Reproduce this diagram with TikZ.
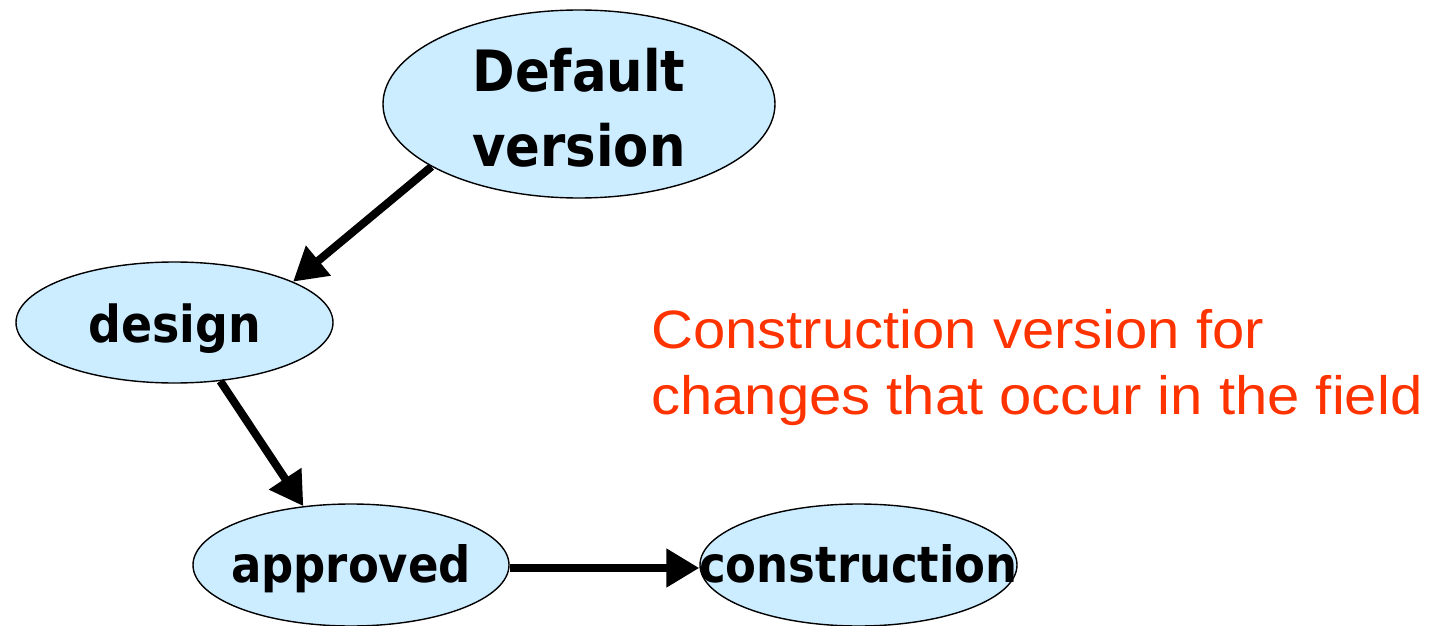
\documentclass[tikz,border=0pt]{standalone}
\usepackage{fontspec}
\usetikzlibrary{shapes.geometric,arrows.meta}
\newfontfamily\nodefont[FakeStretch=0.9]{DejaVu Sans Bold}
\newfontfamily\notefont[FakeStretch=1.075]{Liberation Sans}
\definecolor{nodefill}{HTML}{CCECFF}
\definecolor{notered}{HTML}{FF3300}
\begin{document}
\begin{tikzpicture}[x=1pt,y=-1pt,
  state/.style={ellipse,draw=black,line width=1.4pt,fill=nodefill,inner sep=0pt,
    font=\nodefont\fontsize{50}{58}\selectfont},
  flow/.style={line width=8pt,-{Triangle[length=33pt,width=37pt]}}]
\useasboundingbox (0,0) rectangle (1433,626);
\node[state,minimum width=392pt,minimum height=188pt,align=center,
  font=\nodefont\fontsize{57}{75}\selectfont] (def) at (579,104)
  {\rule{0pt}{51pt}\makebox[0pt]{Default}\\\makebox[0pt]{version}};
\node[state,minimum width=317pt,minimum height=121pt,text height=45pt,text depth=6pt,
  font=\nodefont\fontsize{51}{58}\selectfont] (des) at (174.5,322.5) {\makebox[0pt]{design}};
\node[state,minimum width=316pt,minimum height=122pt,text height=40pt,text depth=6pt] (app) at (351,565) {\makebox[0pt]{approved}};
\node[state,minimum width=317pt,minimum height=122pt,text height=40pt,text depth=6pt] (con) at (858.5,565) {\makebox[0pt]{construction}};
\node[anchor=north west,align=left,inner sep=0pt,text=notered,
  font=\notefont\fontsize{54}{66}\selectfont] (note) at (651,309)
  {Construction version for\\changes that occur in the field};
\draw[flow] (def.203) -- (des.19);
\draw[flow] (des.-52) -- (app.129);
\draw[flow] ([yshift=-3pt]app.east) -- ([yshift=-3pt]con.west);
\end{tikzpicture}
\end{document}
